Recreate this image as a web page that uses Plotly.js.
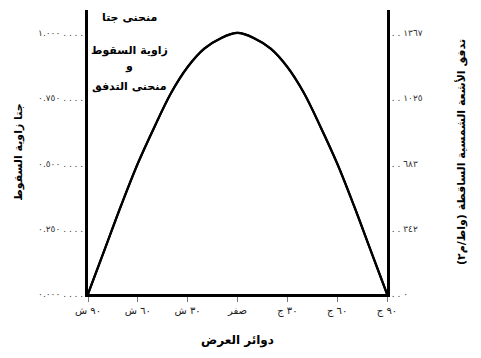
<!DOCTYPE html>
<html>
<head>
<meta charset="utf-8">
<script src="https://cdn.plot.ly/plotly-3.0.1.min.js"></script>
<style>html,body{margin:0;padding:0;background:#fff;}#chart{width:481px;height:358px;}</style>
</head>
<body>
<div id="chart"></div>
<script>
// Latitudes (degrees, north positive)
const latitudes = [90, 80, 70, 60, 50, 40, 30, 20, 10, 0, -10, -20, -30, -40, -50, -60, -70, -80, -90];
// Cosine of incidence angle
const cosIncidence = [0, 0.17, 0.34, 0.5, 0.64, 0.77, 0.87, 0.94, 0.98, 1.0, 0.98, 0.94, 0.87, 0.77, 0.64, 0.5, 0.34, 0.17, 0];
// Incident solar flux (W/m²) – same curve on the right axis
const fluxValues = [0, 232, 465, 684, 875, 1053, 1189, 1285, 1340, 1367, 1340, 1285, 1189, 1053, 875, 684, 465, 232, 0];

const xTickVals = [90, 60, 30, 0, -30, -60, -90];
const xTickText = ['٩٠ ش', '٦٠ ش', '٣٠ ش', 'صفر', '٣٠ ج', '٦٠ ج', '٩٠ ج'];
const yTickVals = [0, 0.25, 0.5, 0.75, 1.0];
const yTickText = ['٠.٠٠٠ . . . .', '٠.٢٥٠ . . . .', '٠.٥٠٠ . . . .', '٠.٧٥٠ . . . .', '١.٠٠٠ . . . .'];
const y2TickVals = [0, 342, 683, 1025, 1367];
const y2TickText = ['. . ٠', '. . ٣٤٢', '. . ٦٨٣', '. . ١٠٢٥', '. . ١٣٦٧'];

const font = 'DejaVu Sans, Noto Sans, sans-serif';
const yTop = 1.088;

const lineStyle = {color: '#000', width: 2.2, shape: 'spline', smoothing: 1};
const traces = [
  {x: latitudes, y: cosIncidence, type: 'scatter', mode: 'lines', line: lineStyle, hoverinfo: 'skip', showlegend: false},
  {x: latitudes, y: fluxValues, yaxis: 'y2', type: 'scatter', mode: 'lines', line: lineStyle, hoverinfo: 'skip', showlegend: false}
];

const annFont = {size: 11, family: font, color: '#000'};
const layout = {
  width: 481, height: 358,
  margin: {l: 88, r: 94, t: 10, b: 64},
  paper_bgcolor: '#fff', plot_bgcolor: '#fff',
  font: {family: font, color: '#000'},
  showlegend: false,
  xaxis: {
    range: [90, -90], tickvals: xTickVals, ticktext: xTickText,
    showgrid: false, zeroline: false, showline: true, linecolor: '#000', linewidth: 3,
    ticks: 'outside', ticklen: 5, tickcolor: '#777', tickwidth: 1,
    tickfont: {size: 10, family: font, color: '#222'},
    title: {text: '<b>دوائر العرض</b>', font: {size: 12, family: font, color: '#000'}, standoff: 20}
  },
  yaxis: {
    range: [0, yTop], tickvals: yTickVals, ticktext: yTickText,
    showgrid: false, zeroline: false, showline: true, linecolor: '#000', linewidth: 3,
    ticks: '', tickfont: {size: 9, family: font, color: '#333'},
    title: {text: '<b>جتا زاوية السقوط</b>', font: {size: 11, family: font, color: '#000'}, standoff: 14}
  },
  yaxis2: {
    overlaying: 'y', side: 'right', range: [0, yTop * 1367],
    tickvals: y2TickVals, ticktext: y2TickText,
    showgrid: false, zeroline: false, showline: true, linecolor: '#000', linewidth: 3,
    ticks: '', tickfont: {size: 9, family: font, color: '#333'},
    title: {text: '<b>تدفق الأشعة الشمسية الساقطة (واط/م٢)</b>', font: {size: 11, family: font, color: '#000'}, standoff: 36}
  },
  annotations: [
    {xref: 'paper', yref: 'paper', x: 0.138, y: 0.972, xanchor: 'center', yanchor: 'middle', text: '<b>منحنى جتا</b>', showarrow: false, font: annFont},
    {xref: 'paper', yref: 'paper', x: 0.138, y: 0.859, xanchor: 'center', yanchor: 'middle', text: '<b>زاوية السقوط</b>', showarrow: false, font: annFont},
    {xref: 'paper', yref: 'paper', x: 0.138, y: 0.80, xanchor: 'center', yanchor: 'middle', text: '<b>و</b>', showarrow: false, font: annFont},
    {xref: 'paper', yref: 'paper', x: 0.138, y: 0.729, xanchor: 'center', yanchor: 'middle', text: '<b>منحنى التدفق</b>', showarrow: false, font: annFont}
  ]
};

Plotly.newPlot('chart', traces, layout, {staticPlot: true, displayModeBar: false});
</script>
</body>
</html>
